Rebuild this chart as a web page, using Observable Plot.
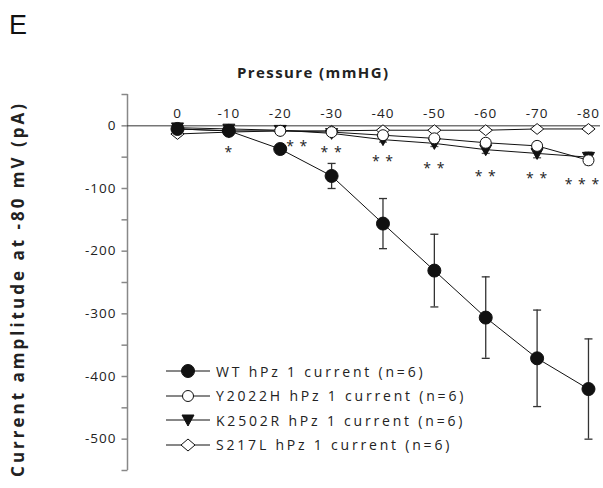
<!DOCTYPE html>
<html><head><meta charset="utf-8">
<script src="https://cdn.jsdelivr.net/npm/d3@7"></script>
<script src="https://cdn.jsdelivr.net/npm/@observablehq/plot@0.6"></script>
<style>
body{margin:0;background:#fff;font-family:"Open Sans",sans-serif;}
#wrap{position:relative;width:603px;height:488px;overflow:hidden;}
#wrap > svg{position:absolute;left:0;top:0;}
.panel{position:absolute;left:9px;top:12px;font-size:27px;line-height:1;color:#111;font-family:"Liberation Sans",sans-serif;}
.xtitle{position:absolute;left:237px;top:63px;font-size:15px;line-height:1.2;font-weight:bold;letter-spacing:1.4px;color:#222;white-space:nowrap;}
.ytitle{position:absolute;left:18px;top:289px;transform:translate(-50%,-50%) rotate(-90deg);font-size:17px;line-height:1.2;font-weight:bold;letter-spacing:3px;color:#222;white-space:nowrap;}
.legend{position:absolute;left:166px;top:359px;font-size:14px;letter-spacing:2.8px;color:#222;}
.legend div{height:24.5px;display:flex;align-items:center;white-space:nowrap;}
.legend svg{margin-right:6px;}
</style></head><body><div id="wrap"></div>
<script>
const pressures = [0, -10, -20, -30, -40, -50, -60, -70, -80];
const wtMean    = [-5, -8, -37, -80, -156, -231, -306, -371, -420];
const wtSem     = [3, 3, 5, 20, 40, 58, 65, 77, 80];
const y2022hMean = [-5, -8, -8, -10, -15, -20, -27, -32, -55];
const y2022hSem  = [3, 3, 3, 3, 4, 4, 6, 6, 7];
const k2502rMean = [-3, -5, -7, -12, -22, -28, -38, -44, -50];
const k2502rSem  = [3, 3, 3, 3, 4, 5, 6, 7, 8];
const s217lMean  = [-13, -10, -8, -8, -7, -7, -7, -5, -5];
const s217lSem   = [3, 3, 3, 3, 3, 3, 3, 3, 3];
const seriesNames = ["WT hPz 1 current (n=6)", "Y2022H hPz 1 current (n=6)", "K2502R hPz 1 current (n=6)", "S217L hPz 1 current (n=6)"];
const starLabels = ["", "*", "* *", "* *", "* *", "* *", "* *", "* *", "* * *"];
const starY      = [null, -36, -27, -36, -51, -62, -75, -78, -87];
const starShift  = [0, 0, 17, 0, 0, 0, 0, 0, -6];
const yTicks = [0, -100, -200, -300, -400, -500];
const yMinorTicks = [50, -50, -150, -250, -350, -450, -550];

const styles = [
  {fill: "#111", stroke: "#111", r: 6.5},
  {fill: "white", stroke: "#111", r: 5.5},
  {fill: "#111", stroke: "#111", r: 6},
  {fill: "white", stroke: "#111", r: 6}
];
const means = [wtMean, y2022hMean, k2502rMean, s217lMean];
const sems = [wtSem, y2022hSem, k2502rSem, s217lSem];
const rows = [];
means.forEach((m, s) => pressures.forEach((p, i) => rows.push({series: seriesNames[s], s, p, v: m[i], e: sems[s][i]})));
const stars = pressures.map((p, i) => ({p, label: starLabels[i], y: starY[i], dx: starShift[i]})).filter(d => d.label);

const cap = {draw(ctx, size) { const w = Math.sqrt(size / Math.PI); ctx.moveTo(-w, 0); ctx.lineTo(w, 0); }};
const tri = {draw(ctx, size) { const r = Math.sqrt(size / Math.PI); ctx.moveTo(-r, -r*0.8); ctx.lineTo(r, -r*0.8); ctx.lineTo(0, r*1.0); ctx.closePath(); }};
const dia = {draw(ctx, size) { const r = Math.sqrt(size / Math.PI); ctx.moveTo(-r*1.1, 0); ctx.lineTo(0, -r*0.9); ctx.lineTo(r*1.1, 0); ctx.lineTo(0, r*0.9); ctx.closePath(); }};
const symFor = ["circle", "circle", tri, dia];
const X0 = 9.73;

const marks = [
  Plot.ruleX([X0], {y1: 50, y2: -550, stroke: "#888", strokeWidth: 1.5}),
  Plot.dot(yTicks.concat(yMinorTicks), {x: X0, y: d => d, symbol: cap, r: 3, dx: -3, stroke: "#888", strokeWidth: 1.5}),
  Plot.ruleY([0], {x1: X0, x2: -82.34, stroke: "#333", strokeWidth: 1}),
  Plot.text(pressures, {x: d => d, y: 0, text: d => String(d), dy: -12, fontSize: 13.5, fill: "#222"}),
  Plot.text(yTicks, {x: X0, y: d => d, text: d => String(d), textAnchor: "end", dx: -11, fontSize: 13.5, fill: "#222"})
];
// significance stars, one text mark per distinct horizontal shift
for (const shift of [...new Set(stars.map(d => d.dx))]) {
  marks.push(Plot.text(stars.filter(d => d.dx === shift), {x: "p", y: "y", text: "label", fontSize: 14, fill: "#222", dy: 4, dx: shift}));
}

for (let s = 3; s >= 0; s--) {
  const data = rows.filter(d => d.s === s);
  marks.push(Plot.line(data, {x: "p", y: "v", stroke: "#111", strokeWidth: 1}));
}
for (let s = 3; s >= 0; s--) {
  const data = rows.filter(d => d.s === s);
  const ec = s === 0 ? "#333" : "#555";
  marks.push(Plot.ruleX(data, {x: "p", y1: d => d.v - d.e, y2: d => d.v + d.e, stroke: ec, strokeWidth: 1.3}));
  marks.push(Plot.dot(data, {x: "p", y: d => d.v + d.e, symbol: cap, r: 4, stroke: ec, strokeWidth: 1.3}));
  marks.push(Plot.dot(data, {x: "p", y: d => d.v - d.e, symbol: cap, r: 4, stroke: ec, strokeWidth: 1.3}));
  const st = styles[s];
  marks.push(Plot.dot(data, {x: "p", y: "v", symbol: symFor[s], r: st.r, fill: st.fill, stroke: st.stroke, strokeWidth: 1}));
}

const chart = Plot.plot({
  width: 603, height: 488,
  marginLeft: 127, marginRight: 3, marginTop: 94, marginBottom: 18,
  x: {type: "linear", domain: [X0, -82.34], axis: null},
  y: {type: "linear", domain: [-550, 50], axis: null},
  style: {fontFamily: "'Open Sans', sans-serif", background: "white", letterSpacing: "1px"},
  marks
});
const wrap = document.getElementById("wrap");
wrap.appendChild(chart);

const addDiv = (cls, txt) => { const d = document.createElement("div"); d.className = cls; d.textContent = txt; wrap.appendChild(d); return d; };
addDiv("panel", "E");
addDiv("xtitle", "Pressure (mmHG)");
addDiv("ytitle", "Current amplitude at -80 mV (pA)");

const leg = document.createElement("div"); leg.className = "legend"; wrap.appendChild(leg);
const legSyms = [
  '<circle cx="22" cy="8" r="6.5" fill="#111" stroke="#111"/>',
  '<circle cx="22" cy="8" r="5.5" fill="white" stroke="#111"/>',
  '<path d="M16,3 L28,3 L22,14 Z" fill="#111" stroke="#111"/>',
  '<path d="M15,8 L22,2 L29,8 L22,14 Z" fill="white" stroke="#111"/>'
];
seriesNames.forEach((n, i) => {
  const row = document.createElement("div");
  row.innerHTML = `<svg width="44" height="16"><line x1="0" x2="44" y1="8" y2="8" stroke="#111" stroke-width="1"/>${legSyms[i]}</svg><span>${n}</span>`;
  leg.appendChild(row);
});
</script></body></html>
